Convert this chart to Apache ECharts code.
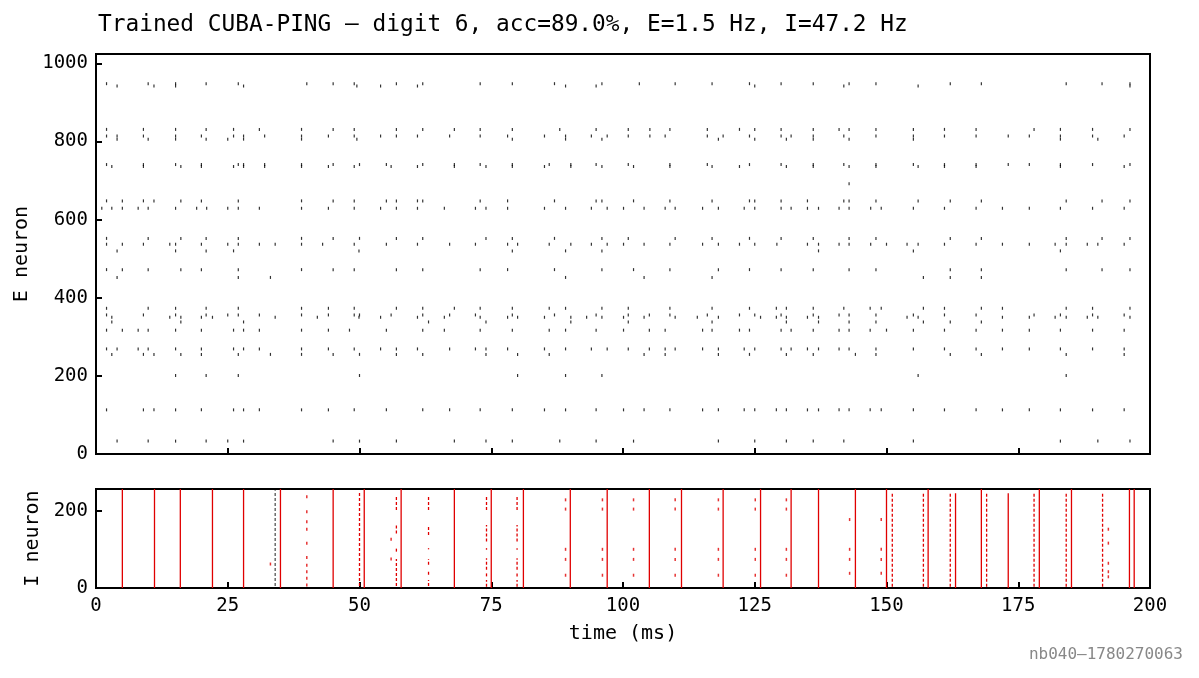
<!DOCTYPE html>
<html>
<head>
<meta charset="utf-8">
<script src="https://cdn.jsdelivr.net/npm/echarts@6/dist/echarts.min.js"></script>
<style>html,body{margin:0;background:#fff}#chart{width:1199px;height:678px}</style>
</head>
<body>
<div id="chart"></div>
<script>
// E neuron spike times (ms), one array per neuron row
const e948 = [2.0, 9.9, 15.1, 20.9, 27.0, 40.0, 45.0, 49.0, 57.0, 62.0, 72.9, 79.0, 87.0, 96.0, 103.1, 109.9, 116.9, 124.0, 130.0, 136.1, 142.9, 148.0, 162.1, 168.0, 184.1, 190.9, 196.2]
const e942 = [4.0, 11.0, 15.1, 28.0, 49.5, 54.0, 61.0, 89.1, 94.9, 125.0, 141.9, 156.0, 196.2]
const e831 = [2.0, 9.0, 15.1, 20.9, 26.1, 31.0, 39.0, 45.0, 49.0, 57.0, 62.0, 68.0, 72.9, 79.0, 88.0, 94.9, 101.0, 105.1, 108.9, 116.0, 122.1, 125.0, 130.0, 136.1, 141.0, 142.9, 148.0, 155.1, 161.0, 167.0, 178.0, 183.0, 189.1, 196.2]
const e814 = [2.0, 4.0, 9.0, 15.1, 20.0, 26.1, 28.0, 32.0, 39.0, 44.1, 49.0, 54.0, 57.0, 61.0, 67.1, 72.9, 78.1, 85.1, 89.1, 94.0, 97.0, 101.0, 105.1, 108.0, 116.0, 119.0, 124.0, 130.0, 131.9, 136.1, 141.9, 148.0, 155.1, 161.0, 167.0, 173.1, 177.1, 183.0, 189.1, 195.1]
const e806 = [4.0, 9.9, 15.1, 20.9, 25.0, 28.0, 39.0, 49.5, 79.0, 89.1, 96.0, 118.1, 125.0, 131.0, 136.1, 142.9, 155.1, 183.0, 190.1]
const e741 = [2.0, 9.0, 15.1, 20.0, 27.0, 28.0, 32.0, 39.0, 45.0, 50.0, 55.1, 62.0, 68.0, 72.9, 79.0, 86.0, 90.1, 94.9, 101.0, 108.9, 116.0, 124.0, 130.0, 136.1, 141.9, 148.0, 155.1, 161.0, 167.0, 173.1, 177.1, 183.0, 189.1, 196.2]
const e736 = [3.0, 9.0, 16.1, 20.0, 26.1, 28.0, 32.0, 39.0, 44.1, 49.0, 56.0, 61.0, 68.0, 74.0, 79.0, 85.1, 90.1, 96.0, 102.0, 108.9, 116.9, 122.1, 131.0, 136.1, 142.9, 148.0, 156.0, 161.0, 167.0, 183.0, 195.1]
const e692 = [142.9]
const e648 = [2.0, 5.0, 9.0, 11.0, 16.1, 20.0, 27.0, 39.0, 45.0, 49.0, 55.1, 57.0, 61.0, 62.0, 72.9, 78.1, 87.0, 94.9, 96.0, 102.0, 108.9, 116.9, 124.0, 125.0, 130.0, 135.0, 141.9, 142.9, 148.0, 156.0, 162.1, 168.0, 184.1, 190.9, 196.2]
const e629 = [1.1, 3.0, 5.0, 8.0, 9.9, 15.1, 19.1, 21.0, 25.0, 27.0, 31.0, 39.0, 44.1, 49.0, 54.0, 57.0, 61.0, 66.1, 72.0, 74.0, 78.1, 85.1, 89.1, 94.0, 97.0, 100.1, 104.0, 108.0, 109.9, 115.1, 118.1, 123.0, 125.0, 130.0, 131.9, 135.0, 137.1, 141.0, 142.9, 147.0, 149.0, 155.1, 161.0, 167.0, 172.0, 177.1, 183.0, 189.1, 195.1]
const e552 = [2.0, 9.9, 16.1, 20.9, 27.0, 39.0, 45.0, 50.0, 57.0, 62.0, 74.0, 79.0, 87.0, 96.0, 101.0, 109.9, 116.9, 124.0, 130.0, 136.1, 142.9, 148.0, 162.1, 168.0, 184.1, 190.9, 196.2]
const e537 = [2.0, 5.0, 9.0, 14.0, 15.1, 20.0, 25.0, 27.0, 31.0, 34.0, 39.0, 43.0, 49.0, 55.1, 61.0, 67.1, 72.0, 78.1, 80.0, 86.0, 90.1, 94.0, 97.0, 100.1, 104.0, 108.9, 115.1, 118.1, 122.1, 125.0, 129.2, 135.0, 137.1, 141.0, 142.9, 147.0, 150.0, 153.9, 156.0, 161.0, 167.0, 172.0, 177.1, 182.0, 184.1, 188.1, 190.1, 195.1]
const e520 = [4.0, 15.1, 20.9, 26.1, 49.9, 79.0, 89.1, 96.0, 137.1, 155.1, 183.0]
const e472 = [2.0, 5.0, 9.9, 16.1, 20.0, 27.0, 39.0, 45.0, 49.0, 57.0, 62.0, 72.9, 78.1, 87.0, 96.0, 102.0, 108.9, 118.1, 124.0, 130.0, 136.1, 142.9, 148.0, 162.1, 168.0, 184.1, 190.9, 196.2]
const e452 = [4.0, 27.0, 33.1, 89.1, 104.0, 116.9, 157.0, 162.1, 168.0]
const e373 = [2.0, 9.9, 15.1, 20.9, 27.0, 39.0, 44.1, 49.0, 57.0, 62.0, 68.0, 72.9, 79.0, 86.0, 89.1, 96.0, 101.0, 108.9, 116.9, 124.0, 129.1, 131.0, 136.1, 141.9, 146.9, 149.0, 157.0, 161.0, 168.0, 172.0, 184.1, 189.1, 196.2]
const e356 = [2.0, 9.0, 15.1, 20.9, 25.0, 27.0, 31.0, 39.0, 44.1, 49.0, 50.0, 56.0, 62.0, 67.1, 72.0, 79.0, 87.0, 94.9, 101.0, 105.0, 108.9, 116.0, 122.1, 125.0, 130.0, 136.1, 141.0, 142.9, 148.0, 155.1, 161.0, 167.0, 178.0, 183.0, 189.1, 195.1]
const e350 = [3.0, 14.0, 16.1, 20.0, 22.1, 34.0, 42.0, 49.9, 54.0, 61.0, 66.1, 72.9, 78.1, 80.0, 85.1, 90.1, 93.1, 96.0, 100.1, 104.0, 109.9, 114.1, 118.1, 126.1, 129.1, 131.0, 135.0, 137.1, 153.9, 156.0, 172.0, 177.1, 182.0, 184.1, 188.1, 190.1, 196.2]
const e338 = [3.0, 16.1, 28.0, 63.1, 74.0, 90.1, 101.0, 116.9, 131.0, 137.1, 142.9, 148.0, 157.0, 162.1, 168.0]
const e317 = [2.0, 5.0, 8.0, 9.9, 15.1, 20.0, 26.1, 28.0, 31.0, 39.0, 44.1, 48.1, 55.1, 62.0, 66.1, 72.9, 79.0, 86.0, 89.1, 94.9, 100.1, 105.0, 108.0, 115.1, 116.9, 122.1, 124.0, 130.0, 131.9, 136.1, 141.0, 142.9, 146.9, 150.0, 155.1, 161.0, 167.0, 172.0, 177.1, 183.0, 189.1, 195.1]
const e269 = [2.0, 4.0, 8.0, 9.9, 15.1, 20.0, 26.1, 28.0, 31.0, 39.0, 44.1, 49.0, 54.0, 57.0, 61.0, 67.1, 72.0, 74.0, 78.1, 85.1, 89.1, 94.0, 97.0, 101.0, 105.0, 108.0, 109.9, 115.1, 118.1, 123.0, 125.0, 130.0, 131.9, 135.0, 137.1, 141.0, 142.9, 148.0, 155.1, 161.0, 167.0, 172.0, 177.1, 183.0, 189.1, 195.1]
const e255 = [3.0, 9.0, 11.0, 16.1, 20.0, 27.0, 33.1, 39.0, 45.0, 50.0, 57.0, 62.0, 74.0, 80.0, 86.0, 104.0, 108.0, 118.1, 124.0, 131.0, 136.1, 144.1, 148.0, 162.1, 168.0, 184.1, 195.1]
const e201 = [15.1, 20.9, 27.0, 50.0, 80.0, 89.1, 96.0, 156.0, 184.1]
const e113 = [2.0, 9.0, 11.0, 15.1, 20.0, 26.1, 28.0, 31.0, 39.0, 44.1, 49.0, 55.1, 62.0, 67.1, 72.9, 79.0, 85.1, 89.1, 94.9, 100.1, 104.0, 108.9, 115.1, 118.1, 123.0, 125.0, 129.1, 131.0, 135.0, 137.1, 141.0, 142.9, 146.9, 149.0, 155.1, 161.0, 167.0, 172.0, 177.1, 183.0, 189.1, 195.1]
const e33 = [4.0, 9.9, 15.1, 20.9, 25.0, 28.0, 45.0, 50.0, 57.0, 68.0, 74.0, 79.0, 88.0, 94.9, 102.0, 118.1, 125.0, 131.0, 136.1, 141.9, 155.1, 183.0, 190.1, 196.2]

// I population: full volleys (all cells), partial volleys [t, from, to], sparse volleys [t, cells]
const iFull = [5.0, 11.1, 16.0, 22.1, 28.0, 35.0, 45.0, 50.9, 57.9, 68.0, 75.0, 81.1, 90.0, 97.0, 105.0, 111.1, 119.0, 126.1, 131.9, 137.1, 144.1, 150.0, 157.9, 168.0, 179.0, 185.1, 196.1, 197.0]
const iPartial = [[163.1, 0, 245], [173.1, 0, 245]]
const iDashed = [
  [50.0, 5, 246],
  [57.0, 202, 238], [57.0, 141, 163], [57.0, 94, 103], [57.0, 5, 75],
  [63.1, 202, 238], [63.1, 137, 163], [63.1, 100, 103], [63.1, 60, 75], [63.1, 34, 47], [63.1, 5, 21],
  [74.1, 202, 238], [74.1, 120, 163], [74.1, 99, 103], [74.1, 47, 77], [74.1, 30, 38], [74.1, 3, 21],
  [79.9, 202, 238], [79.9, 120, 163], [79.9, 99, 103], [79.9, 47, 77], [79.9, 30, 38], [79.9, 3, 21],
  [151.1, 3, 249], [157.0, 3, 245], [162.1, 3, 249], [169.0, 3, 249], [178.0, 3, 249], [184.1, 3, 249], [191.0, 3, 249]
]
const iDark = [[34.0, 5, 253]]
const iSparse = [
  [33.1, [62]],
  [40.0, [236, 197, 171, 152, 116, 79, 59, 42, 25, 8]],
  [56.0, [126, 75]],
  [89.1, [228, 204, 100, 74, 33]],
  [96.1, [228, 204, 100, 74, 33]],
  [102.0, [228, 204, 100, 74, 33]],
  [109.9, [228, 204, 100, 74, 33]],
  [118.1, [228, 204, 100, 74, 33]],
  [125.1, [228, 204, 100, 74, 33]],
  [131.0, [228, 204, 100, 74, 33]],
  [143.0, [177, 100, 74, 38]],
  [149.0, [177, 100, 74, 38]],
  [192.1, [152, 116, 64, 42, 29]]
]

const eRows = [[948, e948], [942, e942], [831, e831], [814, e814], [806, e806], [741, e741], [736, e736],
  [692, e692], [648, e648], [629, e629], [552, e552], [537, e537], [520, e520], [472, e472], [452, e452],
  [373, e373], [356, e356], [350, e350], [338, e338], [317, e317], [269, e269], [255, e255], [201, e201],
  [113, e113], [33, e33]]

const eData = []
eRows.forEach(([n, times]) => times.forEach(t => eData.push([t, n])))
const iTicks = []
iSparse.forEach(([t, cells]) => cells.forEach(c => iTicks.push([t, c])))

const mono = 'DejaVu Sans Mono'
const red = '#e00000'

function segRenderer(color, width, dash) {
  return function (params, api) {
    const a = api.coord([api.value(0), api.value(1)])
    const b = api.coord([api.value(0), api.value(2)])
    return {
      type: 'line',
      shape: { x1: a[0], y1: a[1], x2: b[0], y2: b[1] },
      style: { stroke: color, lineWidth: width, lineDash: dash }
    }
  }
}

function xAxisOf(idx, showLabels) {
  return {
    gridIndex: idx, type: 'value', min: 0, max: 200, interval: 25,
    axisLine: { show: false },
    axisTick: { inside: true, length: 6, lineStyle: { color: '#000', width: 2 } },
    axisLabel: { show: showLabels, fontFamily: mono, fontSize: 19, color: '#000', margin: 9 },
    splitLine: { show: false }
  }
}

function yAxisOf(idx, max, name, gap) {
  return {
    gridIndex: idx, type: 'value', min: 0, max: max, interval: 200,
    axisLine: { show: false },
    axisTick: { inside: true, length: 6, lineStyle: { color: '#000', width: 2 } },
    axisLabel: { fontFamily: mono, fontSize: 19, color: '#000', margin: 8, showMaxLabel: false, formatter: v => String(v) },
    splitLine: { show: false },
    name: name, nameLocation: 'middle', nameGap: gap, nameRotate: 90,
    nameTextStyle: { fontFamily: mono, fontSize: 20, color: '#000' }
  }
}

const chart = echarts.init(document.getElementById('chart'))
const xBottom = xAxisOf(1, true)
xBottom.name = 'time (ms)'
xBottom.nameLocation = 'middle'
xBottom.nameGap = 36
xBottom.nameTextStyle = { fontFamily: mono, fontSize: 20, color: '#000' }

chart.setOption({
  animation: false,
  backgroundColor: '#fff',
  title: {
    text: 'Trained CUBA-PING – digit 6, acc=89.0%, E=1.5 Hz, I=47.2 Hz',
    left: 93, top: 9,
    textStyle: { fontFamily: mono, fontSize: 22.8, fontWeight: 'normal', color: '#000' }
  },
  graphic: [{
    type: 'text', right: 16, top: 647,
    style: { text: 'nb040–1780270063', font: '16px "DejaVu Sans Mono"', fill: '#888' }
  }],
  grid: [
    { left: 96, top: 54, width: 1054, height: 400, show: true, borderColor: '#000', borderWidth: 2, outerBoundsMode: 'none' },
    { left: 96, top: 489, width: 1054, height: 99, show: true, borderColor: '#000', borderWidth: 2, outerBoundsMode: 'none' }
  ],
  xAxis: [xAxisOf(0, false), xBottom],
  yAxis: [yAxisOf(0, 1024, 'E neuron', 56), yAxisOf(1, 256, 'I neuron', 45)],
  series: [
    {
      type: 'scatter', xAxisIndex: 0, yAxisIndex: 0, data: eData,
      symbol: 'rect', symbolSize: [1.2, 3], itemStyle: { color: '#000' }, silent: true
    },
    {
      type: 'custom', xAxisIndex: 1, yAxisIndex: 1, clip: true,
      data: iFull.map(t => [t, 0, 256]), renderItem: segRenderer(red, 1.3, null)
    },
    {
      type: 'custom', xAxisIndex: 1, yAxisIndex: 1, clip: true,
      data: iPartial, renderItem: segRenderer(red, 1.3, null)
    },
    {
      type: 'custom', xAxisIndex: 1, yAxisIndex: 1, clip: true,
      data: iDashed, renderItem: segRenderer(red, 1.3, [3, 2])
    },
    {
      type: 'custom', xAxisIndex: 1, yAxisIndex: 1, clip: true,
      data: iDark, renderItem: segRenderer('#555', 1.3, [3, 2])
    },
    {
      type: 'scatter', xAxisIndex: 1, yAxisIndex: 1, data: iTicks,
      symbol: 'rect', symbolSize: [1.5, 3], itemStyle: { color: red }, silent: true
    }
  ]
})
</script>
</body>
</html>
